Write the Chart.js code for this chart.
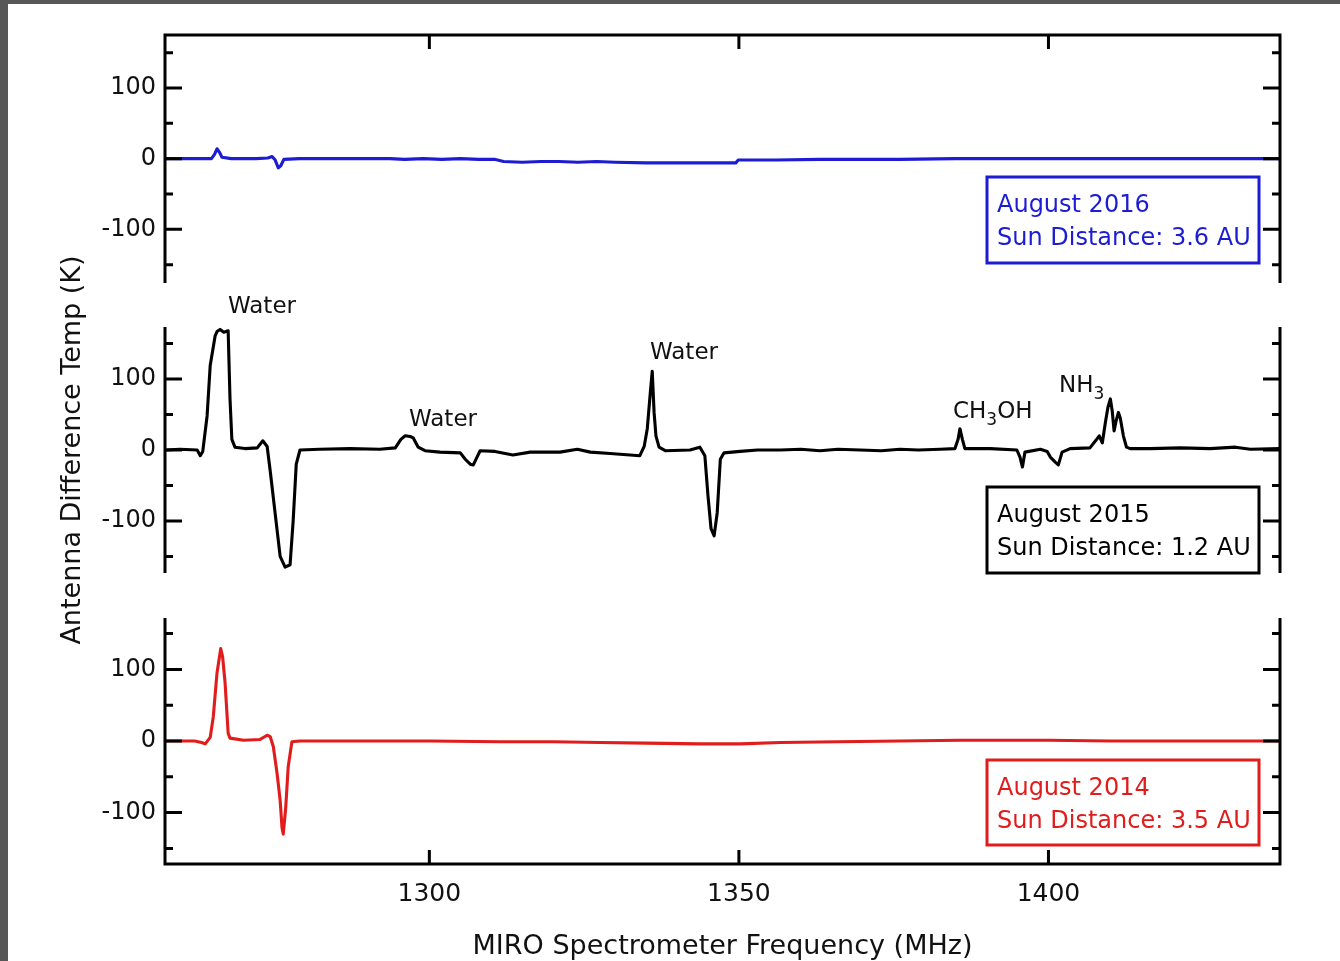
<!DOCTYPE html>
<html><head><meta charset="utf-8">
<script src="https://cdn.jsdelivr.net/npm/chart.js@4.4.0/dist/chart.umd.min.js"></script>
<style>
html,body{margin:0;padding:0;background:#fff;}
body{width:1340px;height:961px;position:relative;overflow:hidden;}
#frameTop{position:absolute;left:0;top:0;width:1340px;height:4px;background:#575757;}
#frameLeft{position:absolute;left:0;top:0;width:8px;height:961px;background:#575757;}
canvas{position:absolute;left:0;top:0;}
</style></head><body>
<div id="frameTop"></div><div id="frameLeft"></div>
<canvas id="c2016" width="1340" height="961"></canvas>
<canvas id="c2015" width="1340" height="961"></canvas>
<canvas id="c2014" width="1340" height="961"></canvas>
<script>
// ---------- data ----------
const freqRange = [1257.3, 1437.4];
const freqTicks = [1300, 1350, 1400];
const tempTicks = [-100, 0, 100];
const tempMinorTicks = [-150, -50, 50, 150];

const freq2016 = [1257.3,1262.5,1264.8,1265.3,1265.7,1266.1,1266.5,1268.0,1272.0,1273.9,1274.6,1275.1,1275.6,1276.0,1276.5,1279.0,1285.0,1293.6,1296.0,1299.0,1302.0,1305.0,1308.0,1310.5,1312.0,1315.0,1318.0,1321.0,1324.0,1327.0,1330.0,1335.0,1340.0,1345.0,1349.5,1349.9,1356.0,1363.0,1370.0,1376.0,1385.0,1395.0,1405.0,1415.0,1425.0,1437.4];
const temp2016 = [0,0,0,6,14,9,2,0,0,1,3,-2,-13,-10,-1,0,0,0,-1,0,-1,0,-1,-1,-4,-5,-4,-4,-5,-4,-5,-6,-6,-6,-6,-2,-2,-1,-1,-1,0,0,0,0,0,0];

const freq2015 = [1257.5,1259.7,1262.5,1263.0,1263.4,1264.1,1264.6,1265.4,1265.7,1266.2,1266.8,1267.5,1267.8,1268.1,1268.6,1270.2,1272.2,1273.1,1273.8,1274.3,1275.1,1275.9,1276.7,1277.5,1278.0,1278.5,1279.1,1282.3,1287.2,1292.0,1294.5,1295.4,1296.1,1296.9,1297.4,1298.2,1299.3,1301.7,1305.0,1305.8,1306.6,1307.1,1307.7,1308.2,1310.6,1313.5,1316.3,1321.1,1323.9,1326.0,1329.2,1334.0,1334.7,1335.2,1335.7,1336.0,1336.3,1336.6,1337.1,1338.1,1342.1,1343.7,1344.5,1345.0,1345.5,1346.0,1346.5,1347.0,1347.6,1350.2,1353.0,1356.7,1360.0,1363.1,1366.0,1369.6,1373.0,1376.0,1379.0,1382.5,1384.9,1385.4,1385.7,1386.1,1386.5,1390.6,1394.9,1395.4,1395.8,1396.2,1398.7,1399.8,1400.3,1401.1,1401.6,1402.2,1403.5,1406.7,1407.7,1408.2,1408.7,1409.2,1409.6,1410.0,1410.3,1410.6,1410.9,1411.3,1411.6,1412.1,1412.6,1413.2,1416.4,1421.3,1426.1,1430.2,1432.6,1437.4];
const temp2015 = [0,1,0,-8,-2,48,119,161,167,170,166,168,72,15,4,2,3,13,5,-30,-90,-150,-165,-162,-100,-20,0,1,2,1,3,15,20,19,17,4,-1,-3,-4,-13,-20,-21,-10,-1,-2,-7,-3,-3,1,-3,-5,-8,5,30,82,111,53,20,4,-1,0,4,-8,-64,-111,-121,-88,-13,-4,-2,0,0,1,-1,1,0,-1,1,0,1,2,15,30,15,2,2,0,-10,-24,-3,1,-2,-10,-17,-21,-3,2,3,14,20,10,39,60,72,55,27,40,53,45,20,4,2,2,3,2,4,1,2];

const freq2014 = [1257.3,1262.1,1263.2,1263.8,1264.6,1265.1,1265.7,1266.3,1266.6,1267.0,1267.5,1267.8,1270.0,1272.6,1273.8,1274.3,1274.8,1275.4,1275.9,1276.2,1276.4,1276.8,1277.2,1277.8,1279.1,1290.0,1300.0,1311.4,1320.0,1327.6,1335.0,1343.7,1350.2,1356.7,1366.0,1376.0,1385.7,1392.0,1400.0,1410.0,1420.0,1430.0,1437.4];
const temp2014 = [0,0,-2,-4,5,34,95,129,118,82,11,4,1,2,8,6,-8,-45,-83,-121,-130,-93,-36,-1,0,0,0,-1,-1,-2,-3,-4,-4,-2,-1,0,1,1,1,0,0,0,0];

// ---------- styling ----------
const FONT = "'DejaVu Sans', sans-serif";
const BLUE = '#1c1cd2', RED = '#e11c1c', BLACK = '#000';
const PAGE_H = 961;

function pts(fx, ty) { return fx.map((f, i) => ({ x: f, y: ty[i] })); }

function framePlugin(o) {
  return {
    id: 'frame' + o.name,
    afterDraw(chart) {
      const { ctx, chartArea: a, scales: { x, y } } = chart;
      ctx.save();
      ctx.strokeStyle = '#000'; ctx.lineWidth = 3; ctx.lineCap = 'butt';
      ctx.beginPath();
      const t = o.top ? a.top - 1.5 : a.top, b = o.bottom ? a.bottom + 1.5 : a.bottom;
      ctx.moveTo(a.left, t); ctx.lineTo(a.left, b);
      ctx.moveTo(a.right, t); ctx.lineTo(a.right, b);
      if (o.top) { ctx.moveTo(a.left, a.top); ctx.lineTo(a.right, a.top); }
      if (o.bottom) { ctx.moveTo(a.left, a.bottom); ctx.lineTo(a.right, a.bottom); }
      const ticks = tempTicks.map(v => [v, 17]).concat(tempMinorTicks.map(v => [v, 8]));
      ticks.forEach(([v, len]) => {
        const py = y.getPixelForValue(v);
        ctx.moveTo(a.left, py); ctx.lineTo(a.left + len, py);
        ctx.moveTo(a.right, py); ctx.lineTo(a.right - len, py);
      });
      freqTicks.forEach(v => {
        const px = x.getPixelForValue(v);
        if (o.top) { ctx.moveTo(px, a.top); ctx.lineTo(px, a.top + 14); }
        if (o.bottom) { ctx.moveTo(px, a.bottom); ctx.lineTo(px, a.bottom - 14); }
      });
      ctx.stroke();
      // legend box
      const bx = o.box;
      ctx.strokeStyle = o.color; ctx.lineWidth = 3;
      ctx.strokeRect(bx[0], bx[1], bx[2] - bx[0], bx[3] - bx[1]);
      ctx.fillStyle = o.color;
      ctx.font = "24px " + FONT;
      ctx.textAlign = 'left'; ctx.textBaseline = 'alphabetic';
      ctx.fillText(o.lines[0], 997, bx[1] + 35);
      ctx.fillText(o.lines[1], 997, bx[1] + 68);
      // annotations
      ctx.fillStyle = '#111';
      (o.notes || []).forEach(n => {
        let cx = n.x;
        n.parts.forEach(p => {
          ctx.font = (p.sub ? '17px ' : '23px ') + FONT;
          ctx.fillText(p.t, cx, n.y + (p.sub ? 7 : 0));
          cx += ctx.measureText(p.t).width;
        });
      });
      ctx.restore();
    }
  };
}

function makeChart(id, o) {
  const xAxis = {
    type: 'linear', min: freqRange[0], max: freqRange[1], display: !!o.xAxis,
    grid: { display: false, drawTicks: false }, border: { display: false },
    afterBuildTicks(s) { s.ticks = freqTicks.map(v => ({ value: v })); },
    ticks: { padding: 15, maxRotation: 0, color: '#111', font: { family: FONT, size: 25 }, callback: v => String(v) }
  };
  if (o.xAxis) {
    xAxis.afterFit = s => { s.height = o.xAxis; };
    xAxis.title = { display: true, text: 'MIRO Spectrometer Frequency (MHz)', color: '#111', font: { family: FONT, size: 27, lineHeight: 1.05 }, padding: { top: 0, bottom: 0 } };
  }
  const yAxis = {
    type: 'linear', min: o.yRange[0], max: o.yRange[1], position: 'left',
    grid: { display: false, drawTicks: false }, border: { display: false },
    afterFit(s) { s.width = 165; },
    afterBuildTicks(s) { s.ticks = tempTicks.map(v => ({ value: v })); },
    ticks: { padding: 9, color: '#111', font: { family: FONT, size: 24 }, callback: v => String(v) }
  };
  if (o.yTitle) {
    yAxis.title = { display: true, text: 'Antenna Difference Temp (K)', color: '#111', font: { family: FONT, size: 27 }, padding: { top: 57, bottom: 0 } };
  }
  return new Chart(document.getElementById(id), {
    type: 'line',
    data: { datasets: [{ data: o.data, borderColor: o.color, borderWidth: 3.1, pointRadius: 0, tension: 0, borderJoinStyle: 'round', fill: false }] },
    options: {
      responsive: false, animation: false, devicePixelRatio: 1, events: [],
      layout: { padding: { left: 0, right: 60, top: o.areaTop, bottom: o.xAxis ? 0 : PAGE_H - o.areaBottom } },
      plugins: { legend: { display: false }, tooltip: { enabled: false } },
      scales: { x: xAxis, y: yAxis }
    },
    plugins: [framePlugin(o)]
  });
}

makeChart('c2016', {
  name: 'a', areaTop: 35, areaBottom: 283, yRange: [-176, 175], top: true,
  data: pts(freq2016, temp2016), color: BLUE,
  box: [987, 177, 1259, 263], lines: ['August 2016', 'Sun Distance: 3.6 AU']
});
makeChart('c2015', {
  name: 'b', areaTop: 327, areaBottom: 573, yRange: [-173.4, 173.4], yTitle: true,
  data: pts(freq2015, temp2015), color: BLACK,
  box: [987, 487, 1259, 573], lines: ['August 2015', 'Sun Distance: 1.2 AU'],
  notes: [
    { x: 228, y: 313, parts: [{ t: 'Water' }] },
    { x: 409, y: 426, parts: [{ t: 'Water' }] },
    { x: 650, y: 359, parts: [{ t: 'Water' }] },
    { x: 953, y: 418, parts: [{ t: 'CH' }, { t: '3', sub: true }, { t: 'OH' }] },
    { x: 1059, y: 392, parts: [{ t: 'NH' }, { t: '3', sub: true }] }
  ]
});
makeChart('c2014', {
  name: 'c', areaTop: 618, areaBottom: 864, yRange: [-171.8, 171.8], bottom: true, xAxis: 97,
  data: pts(freq2014, temp2014), color: RED,
  box: [987, 760, 1259, 845], lines: ['August 2014', 'Sun Distance: 3.5 AU']
});
</script>
</body></html>
